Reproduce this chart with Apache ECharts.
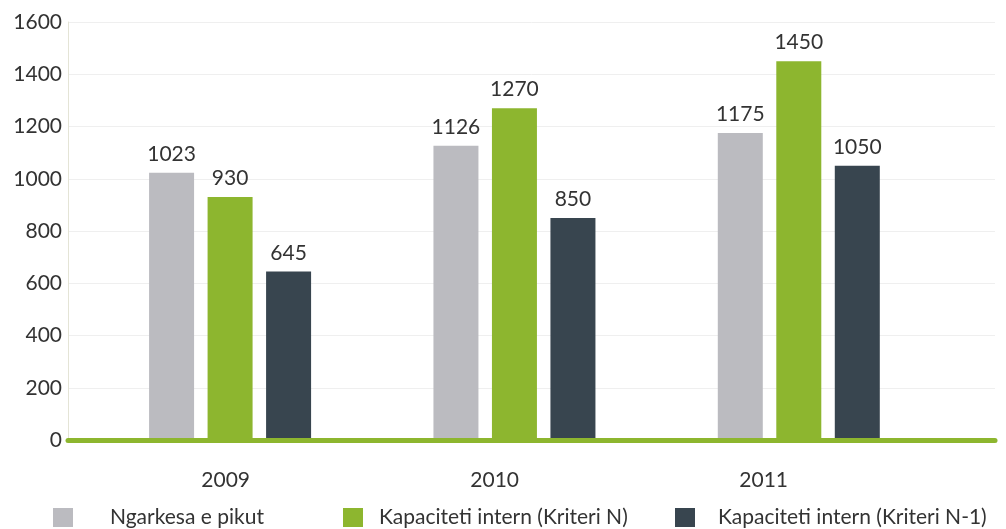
<!DOCTYPE html>
<html>
<head>
<meta charset="utf-8">
<script src="https://cdn.jsdelivr.net/npm/echarts@6/dist/echarts.min.js"></script>
<style>
  html, body { margin: 0; padding: 0; background: #fff; }
  #chart { width: 1006px; height: 529px; }
</style>
</head>
<body>
<div id="chart"></div>
<script>
// data
var years = [2009, 2010, 2011];
var yearLabels = ['2009', '2010', '2011'];
var ngarkesa = [1023, 1126, 1175];
var kriteriN = [930, 1270, 1450];
var kriteriN1 = [645, 850, 1050];
var yTicks = [0, 200, 400, 600, 800, 1000, 1200, 1400, 1600];

var names = ['Ngarkesa e pikut', 'Kapaciteti intern (Kriteri N)', 'Kapaciteti intern (Kriteri N-1)'];
var colors = ['#bbbbc0', '#8db62f', '#38454f'];
var FONT = 'Lato';

function pairs(vals) {
    return vals.map(function (v, i) { return [years[i], v]; });
}

function barSeries(idx, vals) {
    return {
        name: names[idx],
        type: 'bar',
        barWidth: 45,
        barGap: '30%',
        itemStyle: { color: colors[idx] },
        label: {
            show: true,
            position: 'top',
            distance: 8,
            color: '#333',
            fontFamily: FONT,
            fontSize: 21
        },
        data: pairs(vals)
    };
}

// one legend per item, the spacing in the picture is uneven
function legendAt(idx, left, pad) {
    return {
        data: [names[idx]],
        left: left,
        top: 507,
        padding: 0,
        itemWidth: 20,
        itemHeight: 19,
        icon: 'rect',
        textStyle: {
            color: '#333',
            fontFamily: FONT,
            fontSize: 21,
            padding: [0, 0, 0, pad]
        }
    };
}

var myChart = echarts.init(document.getElementById('chart'));

myChart.setOption({
    animation: false,
    backgroundColor: '#fff',
    grid: { left: 68, right: 11, top: 22, bottom: 89 },
    legend: [
        legendAt(0, 53, 32),
        legendAt(1, 343, 11),
        legendAt(2, 675, 18)
    ],
    xAxis: [
        {
            // bars
            type: 'value',
            min: 2008.43,
            max: 2011.69,
            z: 3,
            splitLine: { show: false },
            axisTick: { show: false },
            axisLabel: { show: false },
            axisLine: { show: true, lineStyle: { color: '#8db62f', width: 5 } }
        },
        {
            // year labels, they sit a bit left of the groups
            type: 'value',
            position: 'bottom',
            min: 2008.414,
            max: 2011.86,
            splitLine: { show: false },
            axisTick: { show: false },
            axisLine: { show: false },
            axisLabel: {
                customValues: years,
                margin: 30,
                color: '#333',
                fontFamily: FONT,
                fontSize: 21,
                formatter: function (v) {
                    return yearLabels[years.indexOf(Math.round(v))] || '';
                }
            }
        }
    ],
    yAxis: {
        type: 'value',
        min: yTicks[0],
        max: yTicks[yTicks.length - 1],
        interval: 200,
        axisLine: { show: true, lineStyle: { color: '#e4e4d6', width: 1 } },
        axisTick: { show: false },
        splitLine: { lineStyle: { color: '#efefef', width: 1 } },
        axisLabel: {
            margin: 6,
            color: '#333',
            fontFamily: FONT,
            fontSize: 21,
            formatter: function (v) { return String(v); }
        }
    },
    series: [
        barSeries(0, ngarkesa),
        barSeries(1, kriteriN),
        barSeries(2, kriteriN1)
    ]
});
</script>
</body>
</html>
